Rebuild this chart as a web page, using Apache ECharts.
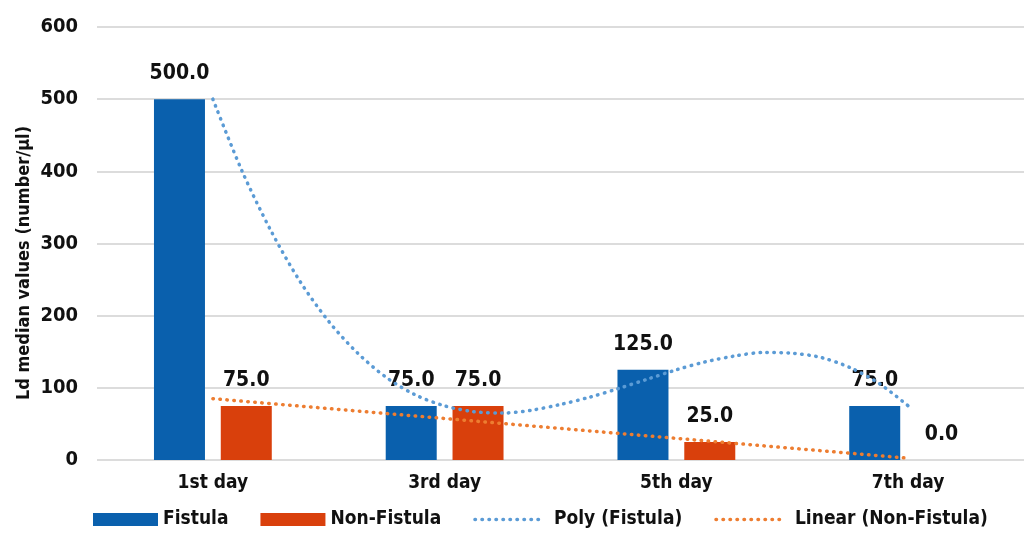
<!DOCTYPE html>
<html>
<head>
<meta charset="utf-8">
<script src="https://cdn.jsdelivr.net/npm/echarts@6/dist/echarts.min.js"></script>
<style>
html,body{margin:0;padding:0;background:#fff;}
#c{width:1024px;height:537px;}
</style>
</head>
<body>
<div id="c"></div>
<script>
const categories = ['1st day', '3rd day', '5th day', '7th day'];
const fistula = [500, 75, 125, 75];
const nonFistula = [75, 75, 25, 0];
// Trendline points: [category position (1..4), value]
const polyFistula = [[1,500],[1.125,401],[1.25,318],[1.375,248],[1.5,192],[1.625,148],[1.75,114],[1.875,90],[2,75],[2.125,67],[2.25,65],[2.375,69],[2.5,77],[2.625,87],[2.75,99],[2.875,112],[3,125],[3.125,136],[3.25,144],[3.375,149],[3.5,148],[3.625,142],[3.75,128],[3.875,106],[4,75]];
const linearNonFistula = [[1,85],[4,2.5]];
const yTicks = [0, 100, 200, 300, 400, 500, 600];
const yTitle = 'Ld median values (number/μl)';

const FONT = "'Liberation Sans Narrow', 'DejaVu Sans Condensed', 'Roboto Condensed', sans-serif";
const BLUE = '#0A60AD';
const ORANGE = '#D9400C';
const POLY = '#5B9BD5';
const LIN = '#ED7D31';
const DOTS = [0.5, 6.5];

const chart = echarts.init(document.getElementById('c'));
chart.setOption({
  animation: false,
  backgroundColor: '#fff',
  textStyle: { fontFamily: FONT },
  grid: { left: 97, right: -5, top: 27, bottom: 77, containLabel: false },
  graphic: [{
    type: 'text',
    x: 24, y: 263,
    rotation: Math.PI / 2,
    style: {
      text: yTitle,
      fontFamily: FONT, fontWeight: 'bold', fontSize: 18, fill: '#111',
      align: 'center', verticalAlign: 'middle'
    }
  }],
  legend: {
    bottom: 3,
    left: 88,
    itemWidth: 65,
    itemHeight: 13,
    itemGap: 32,
    textStyle: { fontFamily: FONT, fontWeight: 'bold', fontSize: 19, color: '#111' },
    data: [
      { name: 'Fistula', icon: 'rect' },
      { name: 'Non-Fistula', icon: 'rect' },
      { name: 'Poly (Fistula)', itemStyle: { opacity: 0 },
        lineStyle: { width: 3.5, type: DOTS, cap: 'round', color: POLY },
        textStyle: { padding: [0, 0, 0, 9] } },
      { name: 'Linear (Non-Fistula)', itemStyle: { opacity: 0 },
        lineStyle: { width: 3.5, type: DOTS, cap: 'round', color: LIN },
        textStyle: { padding: [0, 0, 0, 9] } }
    ]
  },
  xAxis: [
    {
      type: 'category',
      data: categories,
      axisLine: { show: false },
      axisTick: { show: false },
      axisLabel: { fontFamily: FONT, fontWeight: 'bold', fontSize: 19, color: '#111', margin: 14 }
    },
    {
      type: 'value',
      min: 0.5,
      max: 4.5,
      show: false
    }
  ],
  yAxis: {
    type: 'value',
    min: 0,
    max: 600,
    interval: 100,
    axisLine: { show: false },
    axisTick: { show: false },
    splitLine: { lineStyle: { color: '#d0d0d0', width: 1.5 } },
    axisLabel: {
      fontFamily: FONT, fontWeight: 'bold', fontSize: 20, color: '#111', margin: 19,
      formatter: v => yTicks.includes(v) ? String(v) : ''
    }
  },
  series: [
    {
      name: 'Fistula',
      type: 'bar',
      data: fistula,
      barWidth: 51,
      barGap: '31%',
      itemStyle: { color: BLUE },
      label: {
        show: true, position: 'top', distance: 15,
        fontFamily: FONT, fontWeight: 'bold', fontSize: 21, color: '#111',
        formatter: p => p.value.toFixed(1)
      }
    },
    {
      name: 'Non-Fistula',
      type: 'bar',
      data: nonFistula,
      barWidth: 51,
      itemStyle: { color: ORANGE },
      label: {
        show: true, position: 'top', distance: 15,
        fontFamily: FONT, fontWeight: 'bold', fontSize: 21, color: '#111',
        formatter: p => p.value.toFixed(1)
      }
    },
    {
      name: 'Poly (Fistula)',
      type: 'line',
      xAxisIndex: 1,
      data: polyFistula,
      smooth: 0.3,
      symbol: 'none',
      lineStyle: { color: POLY, width: 3.5, type: DOTS, cap: 'round' },
      itemStyle: { color: POLY },
      z: 3
    },
    {
      name: 'Linear (Non-Fistula)',
      type: 'line',
      xAxisIndex: 1,
      data: linearNonFistula,
      symbol: 'none',
      lineStyle: { color: LIN, width: 3.5, type: DOTS, cap: 'round' },
      itemStyle: { color: LIN },
      z: 3
    }
  ]
});
</script>
</body>
</html>
